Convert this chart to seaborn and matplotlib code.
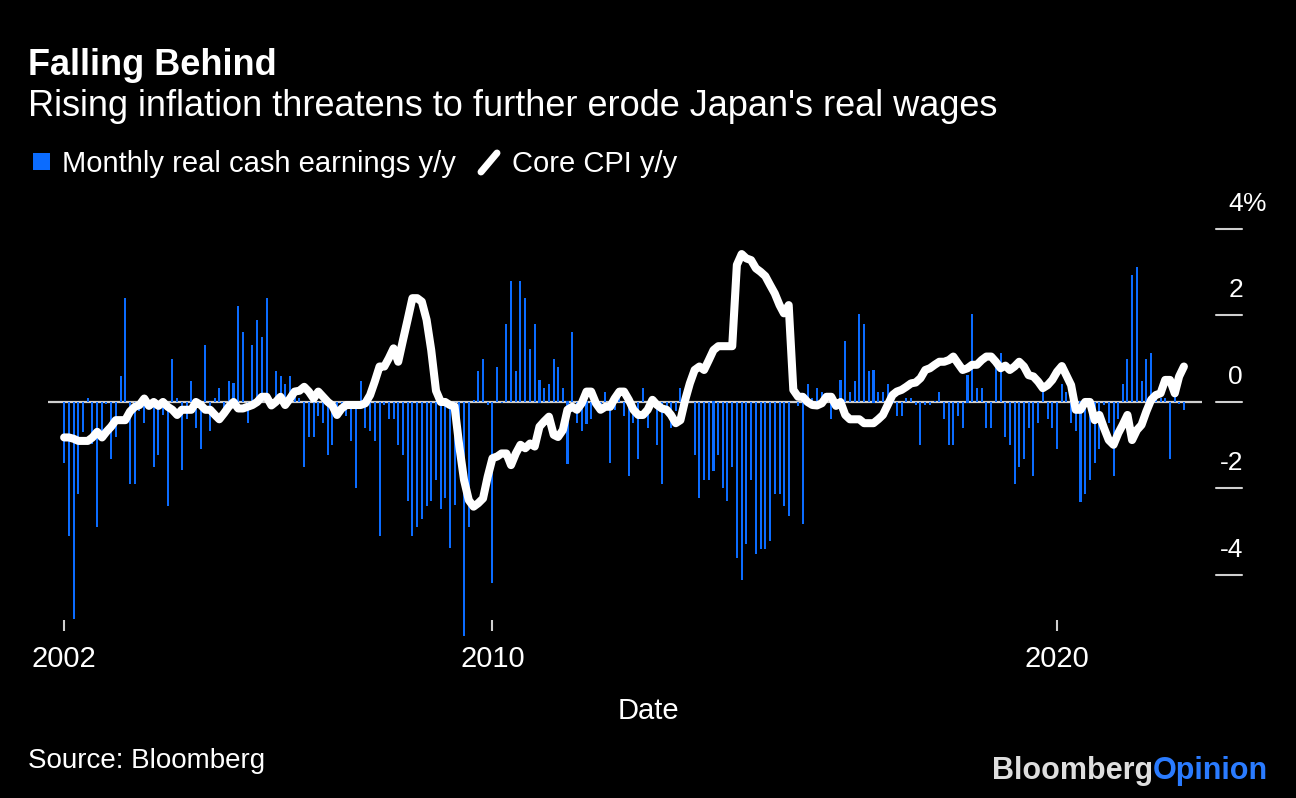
import numpy as np
import pandas as pd
import matplotlib
matplotlib.use("Agg")
import matplotlib.pyplot as plt
import seaborn as sns
from matplotlib.transforms import blended_transform_factory, ScaledTranslation
from matplotlib.patches import Rectangle
from matplotlib.lines import Line2D

# ---------------- data (monthly, May 2002 - Mar 2022) ----------------
first_month_end = "2002-05-31"

real_cash_earnings_yoy = [
    -1.40, -3.11, -5.02, -2.13, -0.69, 0.09, -0.97, -2.88, -0.80, -0.05,
    -1.31, -0.80, 0.59, 2.40, -1.90, -1.90, -0.20, -0.49, -0.10, -1.50,
    -1.22, -0.30, -2.40, 0.99, 0.09, -1.57, -0.40, 0.49, -0.59, -1.08,
    1.31, -0.68, 0.09, 0.32, -0.15, 0.49, 0.42, 2.21, 1.62, -0.49,
    1.31, 1.90, 1.50, 2.40, 0.10, 0.72, 0.59, 0.41, 0.59, 0.20,
    0.10, -1.50, -0.82, -0.82, -0.32, -0.49, -1.22, -0.99, -0.26, -0.10,
    -0.32, -0.90, -1.98, 0.49, -0.59, -0.68, -0.90, -3.11, -0.08, -0.40,
    -0.40, -0.99, -1.22, -2.30, -3.11, -2.88, -2.71, -2.40, -2.30, -1.80,
    -2.48, -2.22, -3.38, -2.39, -0.60, -5.42, -2.88, 0.05, 0.72, 0.99,
    -0.08, -4.19, 0.80, -0.03, 1.80, 2.80, 0.72, 2.80, 2.40, 1.22,
    1.80, 0.49, 0.32, 0.41, 0.99, 0.80, 0.32, -1.40, 1.62, -0.49,
    -0.67, -0.49, -0.40, -0.10, -0.15, 0.24, -1.40, -0.18, 0.15, -0.32,
    -1.71, -0.49, -1.31, 0.32, -0.59, -0.10, -0.99, -1.90, -0.10, -0.59,
    -0.20, 0.32, 0.10, 0.00, -1.22, -2.21, -1.80, -1.80, -1.57, -1.22,
    -1.99, -2.30, -1.50, -3.61, -4.12, -3.29, -1.80, -3.52, -3.39, -3.39,
    -3.21, -2.13, -2.13, -2.40, -2.63, 0.00, -0.10, -2.81, 0.41, 0.10,
    0.32, 0.23, 0.10, -0.40, -0.10, 0.49, 1.40, 0.23, 0.49, 2.03,
    1.80, 0.72, 0.72, 0.23, 0.23, 0.41, 0.10, -0.32, -0.32, 0.09,
    0.09, -0.08, -0.99, -0.08, -0.08, 0.02, 0.23, -0.40, -0.99, -0.99,
    -0.32, -0.59, 0.59, 2.03, 0.32, 0.32, -0.59, -0.59, 0.82, 1.13,
    -0.80, -0.99, -1.90, -1.50, -1.31, -0.59, -1.71, -0.49, 0.23, -0.40,
    -0.59, -1.08, 0.41, 0.23, -0.49, -0.68, -2.30, -2.13, -1.80, -1.40,
    -1.08, -0.08, -0.49, -1.71, -0.40, 0.41, 0.99, 2.94, 3.11, 0.49,
    0.99, 1.13, 0.10, 0.10, 0.09, -1.31, 0.12, -0.05, -0.18,
]

core_cpi_yoy = [
    -0.82, -0.82, -0.85, -0.90, -0.90, -0.90, -0.82, -0.69, -0.82, -0.69,
    -0.57, -0.42, -0.42, -0.42, -0.22, -0.11, -0.07, 0.08, -0.09, 0.00,
    -0.09, 0.00, -0.11, -0.18, -0.30, -0.18, -0.18, -0.18, 0.00, -0.07,
    -0.18, -0.18, -0.30, -0.40, -0.26, -0.11, 0.00, -0.15, -0.15, -0.11,
    -0.07, 0.00, 0.12, 0.12, -0.08, 0.00, 0.12, -0.07, 0.08, 0.24,
    0.26, 0.35, 0.24, 0.08, 0.24, 0.12, 0.00, -0.08, -0.30, -0.15,
    -0.07, -0.07, -0.07, -0.07, -0.03, 0.16, 0.47, 0.82, 0.82, 1.01,
    1.24, 0.93, 1.43, 1.90, 2.40, 2.40, 2.32, 1.90, 1.20, 0.26,
    0.00, 0.00, -0.07, -0.10, -1.03, -1.80, -2.27, -2.42, -2.34, -2.23,
    -1.73, -1.30, -1.26, -1.19, -1.19, -1.46, -1.19, -0.99, -1.07, -0.96,
    -1.03, -0.57, -0.45, -0.34, -0.76, -0.81, -0.65, -0.18, -0.11, -0.18,
    -0.03, 0.24, 0.24, -0.03, -0.18, -0.11, -0.11, 0.08, 0.24, 0.24,
    0.05, -0.18, -0.30, -0.30, -0.18, 0.05, -0.07, -0.15, -0.18, -0.30,
    -0.49, -0.42, 0.05, 0.43, 0.74, 0.82, 0.74, 0.97, 1.20, 1.29,
    1.29, 1.29, 1.29, 3.17, 3.42, 3.32, 3.28, 3.09, 3.01, 2.91,
    2.71, 2.51, 2.24, 2.05, 2.24, 0.28, 0.12, 0.12, 0.00, -0.07,
    -0.08, -0.03, 0.12, 0.12, -0.09, 0.00, -0.30, -0.40, -0.40, -0.40,
    -0.49, -0.49, -0.49, -0.40, -0.30, -0.07, 0.16, 0.24, 0.28, 0.35,
    0.43, 0.45, 0.55, 0.74, 0.78, 0.86, 0.93, 0.93, 0.97, 1.05,
    0.89, 0.74, 0.78, 0.86, 0.86, 0.97, 1.05, 1.05, 0.93, 0.78,
    0.84, 0.74, 0.82, 0.93, 0.82, 0.62, 0.59, 0.47, 0.32, 0.39,
    0.51, 0.70, 0.83, 0.62, 0.39, -0.18, -0.18, 0.00, 0.00, -0.42,
    -0.30, -0.61, -0.88, -0.99, -0.72, -0.53, -0.30, -0.88, -0.65, -0.53,
    -0.22, 0.05, 0.16, 0.20, 0.51, 0.51, 0.20, 0.59, 0.82,
]

x_tick_years = [2010, 2020]          # plus the first data point, labelled with its year
y_tick_values = [4, 2, 0, -2, -4]

title = "Falling Behind"
subtitle = "Rising inflation threatens to further erode Japan's real wages"
legend_labels = ["Monthly real cash earnings y/y", "Core CPI y/y"]
source = "Source: Bloomberg"

# ---------------- styling ----------------
BLUE = "#0b6cff"
GRID = "#cfcfcf"
W, H = 1296, 798

sns.set_theme(style="white", rc={"figure.facecolor": "black", "axes.facecolor": "black",
                                 "savefig.facecolor": "black", "text.color": "white"})
plt.rcParams["font.family"] = ["Liberation Sans", "DejaVu Sans"]

dates = pd.date_range(first_month_end, periods=len(real_cash_earnings_yoy), freq="ME")
days_in_year = np.where(dates.is_leap_year, 366, 365)
t = dates.year + dates.dayofyear / days_in_year
df = pd.DataFrame({"t": np.asarray(t, dtype=float),
                   "earnings": real_cash_earnings_yoy,
                   "cpi": core_cpi_yoy})

fig = plt.figure(figsize=(W / 100, H / 100), dpi=100, facecolor="black")
ax = fig.add_axes([48 / W, 1 - 631 / H, 1154 / W, 431 / H])
ax.set_facecolor("black")

ax.axhline(0, color=GRID, lw=1.6, zorder=1)
# thin bars drawn as 2-px strokes so every month renders with the same width
sns.barplot(data=df, x="t", y="earnings", native_scale=True, width=0.01,
            color=BLUE, saturation=1, errorbar=None, linewidth=1.44,
            edgecolor=BLUE, ax=ax, zorder=2)
for p in ax.patches:
    p.set_clip_on(False)
sns.lineplot(data=df, x="t", y="cpi", color="white", lw=5.8, errorbar=None, sort=False,
             ax=ax, zorder=3, solid_capstyle="round", solid_joinstyle="round")
for ln in ax.lines[1:]:
    ln.set_clip_on(False)

# axis ranges (pixel-calibrated)
ax.set_xlim(2002.128, 2022.567)
ax.set_ylim(-5.295, 4.67)
for s in ax.spines.values():
    s.set_visible(False)

# x ticks
first_t = float(df["t"].iloc[0])
ax.set_xticks([first_t] + [float(y) for y in x_tick_years])
ax.set_xticklabels([str(dates[0].year)] + [str(y) for y in x_tick_years])
ax.tick_params(axis="x", direction="in", length=8, width=1.5, color=GRID,
               labelcolor="white", labelsize=21, pad=10, bottom=True)
ax.set_yticks([])
ax.set_ylabel("")
ax.set_xlabel("Date", color="white", fontsize=21)
ax.xaxis.set_label_coords(0.5, 1 - 719 / H, transform=fig.transFigure)
ax.xaxis.label.set_verticalalignment("baseline")

# right-hand y ticks: short dashes with labels above
blend = blended_transform_factory(fig.transFigure, ax.transData)
lab_tr = blend + ScaledTranslation(0, 18 / 100, fig.dpi_scale_trans)
for i, v in enumerate(y_tick_values):
    ax.plot([1216 / W, 1242 / W], [v, v], transform=blend, color=GRID, lw=1.5, clip_on=False)
    ax.text(1243 / W, v, f"{v}", transform=lab_tr, ha="right", va="baseline",
            color="white", fontsize=19)
    if i == 0:
        ax.text(1243 / W, v, "%", transform=lab_tr, ha="left", va="baseline",
                color="white", fontsize=19)

# titles
fig.text(28 / W, 1 - 75 / H, title, fontsize=26, fontweight="bold", color="white", va="baseline")
fig.text(28 / W, 1 - 116 / H, subtitle, fontsize=26, color="white", va="baseline")

# legend (manual to match the Bloomberg style)
fig.patches.append(Rectangle((33 / W, 1 - 170 / H), 17 / W, 17 / H, transform=fig.transFigure,
                             facecolor=BLUE, edgecolor="none"))
fig.text(62 / W, 1 - 172 / H, legend_labels[0], fontsize=21, color="white", va="baseline")
fig.add_artist(Line2D([481 / W, 497 / W], [1 - 172 / H, 1 - 153 / H], transform=fig.transFigure,
                      color="white", lw=5, solid_capstyle="round"))
fig.text(512 / W, 1 - 172 / H, legend_labels[1], fontsize=21, color="white", va="baseline")

# footer
fig.text(28 / W, 1 - 768 / H, source, fontsize=20, color="white", va="baseline")
op = fig.text(1268 / W, 1 - 779 / H, "Opinion", fontsize=22, fontweight="bold",
              color="#2a7bff", ha="right", va="baseline")
renderer = fig.canvas.get_renderer()
bb = op.get_window_extent(renderer)
fig.text(bb.x0 / W, 1 - 779 / H, "Bloomberg", fontsize=22, fontweight="bold",
         color="#dedede", ha="right", va="baseline")

fig.savefig("out.png", dpi=100, facecolor="black")
